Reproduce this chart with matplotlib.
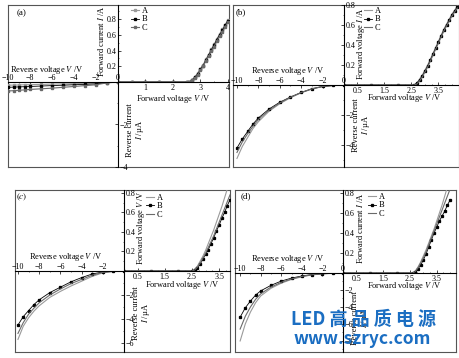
import matplotlib
matplotlib.use('Agg')
import matplotlib.pyplot as plt
from matplotlib.ticker import MultipleLocator

W, H = 460, 358

plt.rcParams['font.family'] = 'Liberation Serif'
plt.rcParams['mathtext.fontset'] = 'stix'
plt.rcParams['font.size'] = 6

series_names = ['A', 'B', 'C']

# reverse voltage grid (V), shared by all panels
rev_v = [-10, -9.5, -9, -8.5, -8, -7, -6, -5, -4, -3, -2, -1, 0]

# (a)
fa_v = [0, 0.5, 1.0, 1.5, 2.0, 2.5, 2.6, 2.7, 2.8, 2.9, 3.0, 3.1, 3.2, 3.3, 3.4, 3.5, 3.6, 3.7, 3.8, 3.9, 4.0]
fa_A = [0, 0, 0, 0, 0, 0, 0, 0.03, 0.07, 0.11, 0.17, 0.22, 0.29, 0.35, 0.42, 0.48, 0.55, 0.61, 0.67, 0.73, 0.79]
fa_B = [0, 0, 0, 0, 0, 0, 0, 0.02, 0.06, 0.10, 0.16, 0.21, 0.28, 0.34, 0.41, 0.47, 0.54, 0.60, 0.66, 0.72, 0.78]
fa_C = [0, 0, 0, 0, 0, 0, 0, 0.02, 0.05, 0.09, 0.15, 0.20, 0.27, 0.33, 0.39, 0.45, 0.52, 0.58, 0.64, 0.70, 0.76]
ra_A = [-0.15, -0.145, -0.14, -0.13, -0.125, -0.115, -0.10, -0.09, -0.08, -0.065, -0.05, -0.02, 0]
ra_B = [-0.25, -0.24, -0.23, -0.22, -0.21, -0.19, -0.17, -0.15, -0.13, -0.11, -0.09, -0.03, 0]
ra_C = [-0.42, -0.41, -0.39, -0.37, -0.35, -0.32, -0.29, -0.25, -0.21, -0.17, -0.13, -0.04, 0]

# (b)
fb_v = [0, 1.0, 2.0, 2.6, 2.7, 2.8, 2.9, 3.0, 3.1, 3.2, 3.3, 3.4, 3.5, 3.6, 3.7, 3.8, 3.9, 4.0, 4.1, 4.2]
fb_A = [0, 0, 0, 0, 0.02, 0.06, 0.10, 0.15, 0.20, 0.26, 0.32, 0.38, 0.44, 0.50, 0.56, 0.61, 0.66, 0.71, 0.75, 0.79]
fb_B = [0, 0, 0, 0, 0.02, 0.05, 0.09, 0.14, 0.19, 0.25, 0.31, 0.37, 0.43, 0.49, 0.55, 0.60, 0.65, 0.70, 0.74, 0.78]
fb_C = [0, 0, 0, 0, 0.01, 0.04, 0.08, 0.13, 0.18, 0.24, 0.30, 0.36, 0.42, 0.48, 0.54, 0.59, 0.64, 0.69, 0.73, 0.77]
rb_A = [-4.9, -4.1, -3.5, -2.9, -2.45, -1.75, -1.25, -0.85, -0.52, -0.27, -0.10, -0.03, 0]
rb_B = [-4.2, -3.6, -3.1, -2.6, -2.2, -1.6, -1.15, -0.80, -0.50, -0.25, -0.10, -0.03, 0]
rb_C = [-4.5, -3.8, -3.25, -2.75, -2.3, -1.68, -1.2, -0.82, -0.50, -0.26, -0.10, -0.03, 0]

# (c)
fc_v = [0, 1.0, 2.0, 2.5, 2.6, 2.7, 2.8, 2.9, 3.0, 3.1, 3.2, 3.3, 3.4, 3.5, 3.6, 3.7, 3.8, 3.9]
fc_A = [0, 0, 0, 0, 0.02, 0.05, 0.10, 0.15, 0.21, 0.28, 0.35, 0.42, 0.50, 0.58, 0.66, 0.75, 0.84, 0.92]
fc_B = [0, 0, 0, 0, 0.01, 0.03, 0.07, 0.12, 0.17, 0.22, 0.28, 0.34, 0.41, 0.47, 0.54, 0.60, 0.67, 0.73]
fc_C = [0, 0, 0, 0, 0.01, 0.04, 0.08, 0.13, 0.18, 0.24, 0.30, 0.36, 0.43, 0.50, 0.57, 0.64, 0.71, 0.78]
rc_A = [-5.7, -4.6, -3.9, -3.35, -2.9, -2.2, -1.7, -1.25, -0.85, -0.45, -0.15, -0.03, 0]
rc_B = [-4.5, -3.8, -3.3, -2.8, -2.4, -1.8, -1.35, -0.90, -0.55, -0.25, -0.08, -0.02, 0]
rc_C = [-5.2, -4.3, -3.6, -3.1, -2.65, -2.0, -1.5, -1.05, -0.70, -0.35, -0.12, -0.03, 0]

# (d)
fd_v = [0, 1.0, 2.0, 2.6, 2.7, 2.8, 2.9, 3.0, 3.1, 3.2, 3.3, 3.4, 3.5, 3.6, 3.7, 3.8, 3.9, 4.0]
fd_A = [0, 0, 0, 0, 0.02, 0.06, 0.11, 0.17, 0.23, 0.30, 0.37, 0.44, 0.52, 0.60, 0.68, 0.77, 0.86, 0.95]
fd_B = [0, 0, 0, 0, 0.01, 0.04, 0.08, 0.13, 0.19, 0.26, 0.33, 0.40, 0.46, 0.52, 0.57, 0.62, 0.68, 0.73]
fd_C = [0, 0, 0, 0, 0.015, 0.05, 0.10, 0.15, 0.21, 0.28, 0.35, 0.42, 0.49, 0.56, 0.63, 0.70, 0.77, 0.84]
rd_A = [-8.0, -6.0, -4.6, -3.5, -2.7, -1.8, -1.2, -0.75, -0.45, -0.22, -0.10, -0.03, 0]
rd_B = [-5.2, -4.1, -3.3, -2.6, -2.1, -1.45, -0.95, -0.60, -0.35, -0.18, -0.08, -0.02, 0]
rd_C = [-6.6, -5.1, -4.0, -3.1, -2.45, -1.65, -1.1, -0.70, -0.40, -0.20, -0.09, -0.02, 0]

# layout of each panel in pixels of the 460x358 picture
panels = [
    dict(tag='(a)', tag_pos=(22, 13), frame=(8, 5, 229, 167), origin=(118, 82),
         fx=(0, 4.04), fy=(0, 0.98), rx=(-10, 0), ry=(-3.9, 0),
         fxt=[1, 2, 3, 4], fxm=0.5, rxt=[-10, -8, -6, -4, -2, 0], ryt=[-2, -4],
         fy_side='left', fylabel='Forward current $I$ /A',
         fyl=(101, 41), ryl=(136, 130), rxl=(47, 70), fxl=(173, 99), leg=(131, 7),
         fwd=(fa_v, fa_A, fa_B, fa_C), rev=(ra_A, ra_B, ra_C), dots=True),
    dict(tag='(b)', tag_pos=(241, 12), frame=(233, 5, 459, 167), origin=(344, 85),
         fx=(0, 4.26), fy=(0, 0.8), rx=(-10.37, 0), ry=(-5.47, 0),
         fxt=[0.5, 1.5, 2.5, 3.5], fxm=0.25, rxt=[-10, -8, -6, -4, -2, 0], ryt=[-2, -4],
         fy_side='right', fylabel='Forward voltage $I$ /A',
         fyl=(361, 44), ryl=(362, 125), rxl=(288, 71), fxl=(404, 98), leg=(364, 7),
         fwd=(fb_v, fb_A, fb_B, fb_C), rev=(rb_A, rb_B, rb_C), dots=False),
    dict(tag='$(c)$', tag_pos=(22, 197), frame=(15, 190, 230, 352), origin=(124, 271),
         fx=(0, 3.9), fy=(0, 0.83), rx=(-10.28, 0), ry=(-6.75, 0),
         fxt=[0.5, 1.5, 2.5, 3.5], fxm=0.25, rxt=[-10, -8, -6, -4, -2], ryt=[-2, -4, -6],
         fy_side='right', fylabel='Forward voltage $V$ /V',
         fyl=(141, 228), ryl=(142, 313), rxl=(66, 257), fxl=(182, 285), leg=(146, 194),
         fwd=(fc_v, fc_A, fc_B, fc_C), rev=(rc_A, rc_B, rc_C), dots=False),
    dict(tag='(d)', tag_pos=(246, 196), frame=(235, 190, 456, 352), origin=(343, 273),
         fx=(0, 4.22), fy=(0, 0.83), rx=(-10.5, 0), ry=(-9.3, 0),
         fxt=[0.5, 1.5, 2.5, 3.5], fxm=0.25, rxt=[-10, -8, -6, -4, -2, 0], ryt=[-2, -4, -6, -8],
         fy_side='right', fylabel='Forward current $I$ /A',
         fyl=(360, 228), ryl=(361, 318), rxl=(288, 259), fxl=(404, 286), leg=(368, 193),
         fwd=(fd_v, fd_A, fd_B, fd_C), rev=(rd_A, rd_B, rd_C), dots=False),
]

styles = {
    'A': dict(color='#9a9a9a', lw=0.8),
    'B': dict(color='black', lw=0.6, marker='s', ms=1.4),
    'C': dict(color='#6a6a6a', lw=0.8),
}


def rect(left, top, right, bottom):
    return [left / W, 1 - bottom / H, (right - left) / W, (bottom - top) / H]


def to_axes(box, x, y):
    left, top, right, bottom = box
    return (x - left) / (right - left), (bottom - y) / (bottom - top)


def style_ticks(ax):
    ax.tick_params(which='major', direction='in', length=2, width=0.5, pad=1.2, labelsize=5.8)
    ax.tick_params(which='minor', direction='in', length=1, width=0.4)


fig = plt.figure(figsize=(W / 100, H / 100), dpi=100)

for p in panels:
    L, T, R, B = p['frame']
    ox, oy = p['origin']

    frame = fig.add_axes(rect(L, T, R, B))
    frame.set_xticks([])
    frame.set_yticks([])
    for s in frame.spines.values():
        s.set_color('#555555')
        s.set_linewidth(0.8)
    fig.text(p['tag_pos'][0] / W, 1 - p['tag_pos'][1] / H, p['tag'], fontsize=6.5,
             ha='center', va='center')

    # forward quadrant (upper right)
    fbox = (ox, T, R, oy)
    af = fig.add_axes(rect(*fbox))
    af.set_facecolor('none')
    v = p['fwd'][0]
    for name, cur in zip(series_names, p['fwd'][1:]):
        st = dict(styles[name])
        if p['dots']:
            st.update(marker='s', ms=1.6)
        af.plot(v, cur, label=name, **st)
    af.set_xlim(*p['fx'])
    af.set_ylim(*p['fy'])
    af.set_xticks(p['fxt'])
    af.xaxis.set_minor_locator(MultipleLocator(p['fxm']))
    af.set_yticks([0.2, 0.4, 0.6, 0.8])
    af.yaxis.set_minor_locator(MultipleLocator(0.1))
    af.spines['top'].set_visible(False)
    if p['fy_side'] == 'right':
        af.spines['left'].set_visible(False)
        af.spines['right'].set_position(('axes', 0))
        af.yaxis.tick_right()
        af.yaxis.set_label_position('right')
    else:
        af.spines['right'].set_visible(False)
    for s in ('left', 'right', 'bottom'):
        af.spines[s].set_linewidth(0.8)
    style_ticks(af)
    af.set_xlabel('Forward voltage $V$ /V', ha='center', va='center')
    af.xaxis.set_label_coords(*to_axes(fbox, *p['fxl']))
    af.set_ylabel(p['fylabel'], ha='center', va='center', rotation=90)
    af.yaxis.set_label_coords(*to_axes(fbox, *p['fyl']))
    leg_x, leg_y = to_axes(fbox, *p['leg'])
    af.legend(loc='upper left', bbox_to_anchor=(leg_x, leg_y), frameon=False, fontsize=6,
              handlelength=1.0, handletextpad=0.3, labelspacing=0.05, borderpad=0,
              borderaxespad=0)

    # reverse quadrant (lower left)
    rbox = (L, oy, ox, B)
    ar = fig.add_axes(rect(*rbox))
    ar.set_facecolor('none')
    for name, cur in zip(series_names, p['rev']):
        st = dict(styles[name])
        if p['dots']:
            st.update(marker='s', ms=1.6)
        ar.plot(rev_v, cur, **st)
    ar.set_xlim(*p['rx'])
    ar.set_ylim(*p['ry'])
    ar.set_xticks(p['rxt'])
    ar.xaxis.set_minor_locator(MultipleLocator(1))
    ar.set_yticks(p['ryt'])
    ar.yaxis.set_minor_locator(MultipleLocator(1))
    ar.spines['left'].set_visible(False)
    ar.spines['bottom'].set_visible(False)
    ar.spines['top'].set_linewidth(0.8)
    ar.spines['right'].set_linewidth(0.8)
    ar.xaxis.tick_top()
    ar.yaxis.tick_right()
    ar.xaxis.set_label_position('top')
    ar.yaxis.set_label_position('right')
    style_ticks(ar)
    ar.tick_params(axis='x', pad=0.3)
    ar.set_xlabel('Reverse voltage $V$ /V', ha='center', va='center')
    ar.xaxis.set_label_coords(*to_axes(rbox, *p['rxl']))
    ar.set_ylabel('Reverse current\n$I$ /µA', ha='center', va='center', rotation=90,
                  linespacing=1.0)
    ar.yaxis.set_label_coords(*to_axes(rbox, *p['ryl']))

# site watermark in the lower right corner
wm_font = ['Noto Sans CJK SC', 'DejaVu Sans']
fig.text(364 / W, 1 - 319 / H, 'LED 高 品 质 电 源', family=wm_font, fontsize=13,
         fontweight='bold', color='#1b6ec2', ha='center', va='center', zorder=10)
fig.text(362 / W, 1 - 339 / H, 'www.szryc.com', family=wm_font, fontsize=12.5,
         fontweight='bold', color='#1b6ec2', ha='center', va='center', zorder=10)

fig.savefig('out.png', dpi=100)
